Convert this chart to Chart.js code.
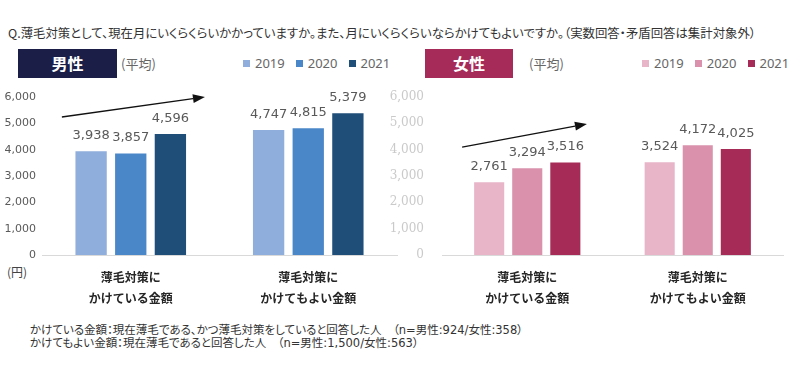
<!DOCTYPE html>
<html>
<head>
<meta charset="utf-8">
<script src="https://cdn.jsdelivr.net/npm/chart.js@4"></script>
<style>
  html, body { margin: 0; padding: 0; background: #fff; }
  body { width: 800px; height: 372px; position: relative; overflow: hidden;
         font-family: "Noto Sans CJK JP", "Noto Sans", sans-serif; }
  .abs { position: absolute; white-space: nowrap; }
  #title { left: 8px; top: 24px; font-size: 12.4px; color: #333; font-feature-settings: "palt"; }
  .badge { top: 49px; height: 29px; line-height: 29px; color: #fff; font-weight: bold;
           font-size: 16px; text-align: center; }
  .avg { top: 54px; font-size: 13px; color: #666; }
  .legend { top: 54px; font-size: 13px; color: #666; font-family: "Noto Sans", sans-serif; }
  .legend span.box { display: inline-block; width: 7px; height: 7px; margin-right: 5px; vertical-align: 1px; }
  .legend span.item { margin-left: 11px; }
  #yen { left: 7px; top: 263px; font-size: 12px; color: #444; }
  .note { left: 30px; font-size: 11.5px; color: #333; font-family: "DejaVu Sans", "Noto Sans CJK JP", sans-serif;
          font-feature-settings: "palt"; }
  canvas { position: absolute; top: 0; }
</style>
</head>
<body>
<div id="title" class="abs">Q.薄毛対策として、現在月にいくらくらいかかっていますか。また、月にいくらくらいならかけてもよいですか。（実数回答・矛盾回答は集計対象外）</div>

<div class="abs badge" style="left:18px;width:99px;background:#1b1f48;">男性</div>
<div class="abs avg" style="left:121px;">(平均)</div>
<div class="abs legend" id="legendMale" style="left:232px;"></div>

<div class="abs badge" style="left:425px;width:88px;background:#a62b58;">女性</div>
<div class="abs avg" style="left:529px;">(平均)</div>
<div class="abs legend" id="legendFemale" style="left:631px;"></div>

<div id="yen" class="abs">(円)</div>

<div class="abs note" style="top:321px;">かけている金額：現在薄毛である、かつ薄毛対策をしていると回答した人　（n=男性:924/女性:358）</div>
<div class="abs note" style="top:334px;">かけてもよい金額：現在薄毛であると回答した人　（n=男性:1,500/女性:563）</div>

<canvas id="male" width="400" height="372" style="left:0;"></canvas>
<canvas id="female" width="420" height="372" style="left:380px;"></canvas>

<script>
const categories = [["薄毛対策に", "かけている金額"], ["薄毛対策に", "かけてもよい金額"]];
const years = ["2019", "2020", "2021"];

const male2019 = [3938, 4747];
const male2020 = [3857, 4815];
const male2021 = [4596, 5379];

const female2019 = [2761, 3524];
const female2020 = [3294, 4172];
const female2021 = [3516, 4025];

const yTicks = [0, 1000, 2000, 3000, 4000, 5000, 6000];

const maleColors = ["#8faedb", "#4a87c9", "#1f4e79"];
const femaleColors = ["#e8b5c8", "#da92ac", "#a72b57"];

function buildLegend(id, colors) {
  const el = document.getElementById(id);
  el.innerHTML = years.map((y, i) =>
    `<span class="item"><span class="box" style="background:${colors[i]}"></span>${y}</span>`
  ).join("");
}
buildLegend("legendMale", maleColors);
buildLegend("legendFemale", femaleColors);

// values above bars
const valueLabels = {
  id: "valueLabels",
  afterDatasetsDraw(chart) {
    const ctx = chart.ctx;
    ctx.save();
    ctx.font = '13px "DejaVu Sans"';
    ctx.fillStyle = "#595959";
    ctx.textAlign = "center";
    ctx.textBaseline = "alphabetic";
    chart.data.datasets.forEach((ds, i) => {
      chart.getDatasetMeta(i).data.forEach((bar, j) => {
        ctx.fillText(ds.data[j].toLocaleString("en-US"), bar.x, bar.y - 12);
      });
    });
    ctx.restore();
  },
};

// trend arrow, x as fraction of chart area, y in data units
const trendArrow = {
  id: "trendArrow",
  afterDraw(chart, args, opts) {
    if (!opts.from) return;
    const { ctx, chartArea } = chart;
    const y = chart.scales.y;
    const x0 = chartArea.left + opts.from[0] * chartArea.width;
    const y0 = y.getPixelForValue(opts.from[1]);
    const x1 = chartArea.left + opts.to[0] * chartArea.width;
    const y1 = y.getPixelForValue(opts.to[1]);
    const ang = Math.atan2(y1 - y0, x1 - x0);
    const head = 12, half = 4.5;
    const bx = x1 - head * Math.cos(ang), by = y1 - head * Math.sin(ang);
    ctx.save();
    ctx.strokeStyle = "#111";
    ctx.fillStyle = "#111";
    ctx.lineWidth = 1.3;
    ctx.beginPath();
    ctx.moveTo(x0, y0);
    ctx.lineTo(bx, by);
    ctx.stroke();
    ctx.beginPath();
    ctx.moveTo(x1, y1);
    ctx.lineTo(bx + half * Math.sin(ang), by - half * Math.cos(ang));
    ctx.lineTo(bx - half * Math.sin(ang), by + half * Math.cos(ang));
    ctx.closePath();
    ctx.fill();
    ctx.restore();
  },
};

function makeChart(id, series, colors, opts) {
  return new Chart(document.getElementById(id), {
    type: "bar",
    data: {
      labels: categories,
      datasets: series.map((data, i) => ({
        label: years[i],
        data: data,
        backgroundColor: colors[i],
        categoryPercentage: 0.67,
        barPercentage: 0.79,
      })),
    },
    plugins: [valueLabels, trendArrow],
    options: {
      responsive: false,
      animation: false,
      layout: { padding: { top: 97, right: opts.padRight, left: 0, bottom: 0 } },
      plugins: {
        legend: { display: false },
        tooltip: { enabled: false },
        trendArrow: opts.arrow,
      },
      scales: {
        x: {
          grid: { display: false, drawTicks: false },
          border: { display: true, color: "#d9d9d9", width: 1 },
          ticks: {
            color: "#262626",
            padding: 12,
            font: { family: '"Noto Sans CJK JP"', size: 12, weight: "bold", lineHeight: 1.75 },
          },
          afterFit: (s) => { s.height = 117; },
        },
        y: {
          min: 0,
          max: 6000,
          grid: { display: false, drawTicks: false },
          border: { display: false },
          afterBuildTicks: (s) => { s.ticks = yTicks.map((v) => ({ value: v })); },
          ticks: {
            color: opts.tickColor,
            padding: opts.tickPad,
            font: opts.tickFont,
            callback: (v) => Number(v).toLocaleString("en-US"),
          },
          afterFit: (s) => { s.width = opts.axisWidth; },
        },
      },
    },
  });
}

makeChart("male", [male2019, male2020, male2021], maleColors, {
  padRight: 3,
  axisWidth: 42,
  tickColor: "#595959",
  tickPad: 6,
  tickFont: { family: '"DejaVu Sans"', size: 11 },
  arrow: { from: [0.056, 5240], to: [0.459, 6000] },
});

makeChart("female", [female2019, female2020, female2021], femaleColors, {
  padRight: 17,
  axisWidth: 62,
  tickColor: "#cacaca",
  tickPad: 18,
  tickFont: { family: '"DejaVu Serif"', size: 12 },
  arrow: { from: [0.059, 4100], to: [0.425, 4975] },
});
</script>
</body>
</html>
